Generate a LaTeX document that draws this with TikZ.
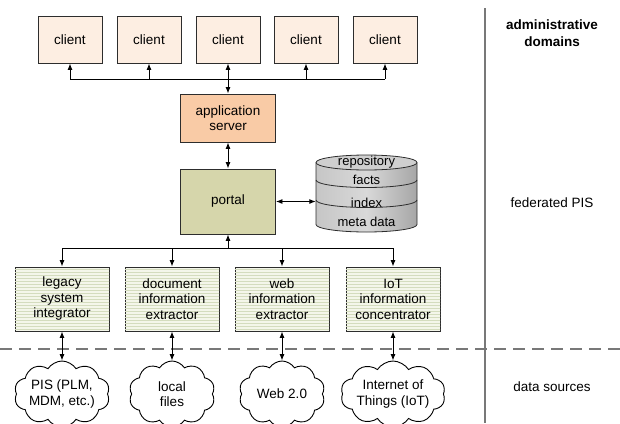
\documentclass[tikz,border=0pt]{standalone}
\usepackage{fontspec}
\setmainfont{Liberation Sans}
\usetikzlibrary{arrows.meta,shapes.symbols,patterns}
\definecolor{clientfill}{RGB}{253,238,226}
\definecolor{appfill}{RGB}{249,203,166}
\definecolor{portalfill}{RGB}{214,214,171}
\definecolor{stripefill}{RGB}{244,246,234}
\definecolor{stripeline}{RGB}{212,220,190}
\definecolor{edgecol}{RGB}{45,45,45}
\definecolor{sepcol}{RGB}{120,120,120}
\tikzset{
  box/.style={draw=edgecol, line width=0.9pt, align=center, inner sep=0pt,
    font=\fontsize{13.5}{15.5}\selectfont},
  clientbox/.style={box, fill=clientfill, minimum width=64pt, minimum height=47pt},
  appbox/.style={box, fill=appfill, minimum width=95pt, minimum height=48pt},
  portalbox/.style={box, fill=portalfill, minimum width=95pt, minimum height=65pt},
  srcbox/.style={box, fill=stripefill, minimum width=94pt, minimum height=64pt,
    postaction={pattern=horizontal lines, pattern color=stripeline}},
  cloudnode/.style={cloud, draw=black, line width=0.9pt, fill=white, cloud puffs=10,
    cloud puff arc=115, cloud ignores aspect, minimum width=86pt, minimum height=66pt,
    inner sep=0pt, align=center, font=\fontsize{13.5}{15.5}\selectfont},
  conn/.style={line width=0.9pt, draw=black},
  tip/.style={conn, -{Latex[length=6.5pt,width=5pt]}},
  twotip/.style={conn, {Latex[length=6.5pt,width=5pt]}-{Latex[length=6.5pt,width=5pt]}},
  sidelabel/.style={align=center, font=\fontsize{13.5}{15.5}\selectfont},
  repotext/.style={font=\fontsize{13}{15}\selectfont}
}
\begin{document}
\begin{tikzpicture}[x=1pt,y=1pt]
\useasboundingbox (0,0) rectangle (620,-423);

% separators
\draw[sepcol, line width=1.5pt] (485,-8) -- (485,-423);
\draw[sepcol, line width=1.5pt, dash pattern=on 12pt off 7pt] (0,-349) -- (620,-349);

% clients
\node[clientbox] (c1) at (70,-39.5) {client};
\node[clientbox] (c2) at (149,-39.5) {client};
\node[clientbox] (c3) at (228,-39.5) {client};
\node[clientbox] (c4) at (306,-39.5) {client};
\node[clientbox] (c5) at (385,-39.5) {client};

% application server and portal
\node[appbox] (app) at (228,-118) {application\\server};
\node[portalbox] (portal) at (228,-201.5) {portal};

% repository cylinder
\node[minimum width=101pt, minimum height=78pt, inner sep=0pt] (repo) at (366.5,-194) {};
\shade[left color=gray!45, right color=gray!70, middle color=gray!30]
  (316,-162.5) -- (316,-224.5)
  arc[start angle=180, end angle=360, x radius=50.5pt, y radius=7.5pt]
  -- (417,-162.5) -- cycle;
\draw[edgecol, line width=0.8pt]
  (316,-162.5) -- (316,-224.5)
  arc[start angle=180, end angle=360, x radius=50.5pt, y radius=7.5pt]
  -- (417,-162.5);
\draw[edgecol, line width=0.8pt, fill=gray!38] (366.5,-162.5) ellipse [x radius=50.5pt, y radius=7.5pt];
\draw[edgecol, line width=0.8pt] (316,-180) arc[start angle=180, end angle=360, x radius=50.5pt, y radius=7.5pt];
\draw[edgecol, line width=0.8pt] (316,-200) arc[start angle=180, end angle=360, x radius=50.5pt, y radius=7.5pt];
\node[repotext] (rt1) at (366.5,-162.5) {repository};
\node[repotext] (rt2) at (366.5,-180) {facts};
\node[repotext] (rt3) at (366.5,-203) {index};
\node[repotext] (rt4) at (366.5,-222) {meta data};

% source boxes
\node[srcbox] (b1) at (62,-299) {legacy\\system\\integrator};
\node[srcbox] (b2) at (172,-299) {document\\information\\extractor};
\node[srcbox] (b3) at (282,-299) {web\\information\\extractor};
\node[srcbox] (b4) at (393,-299) {IoT\\information\\concentrator};

% clouds
\node[cloudnode] (s1) at (62,-394) {PIS (PLM,\\MDM, etc.)};
\node[cloudnode] (s2) at (172,-394) {local\\files};
\node[cloudnode] (s3) at (282,-394) {Web 2.0};
\node[cloudnode] (s4) at (393,-394) {Internet of\\Things (IoT)};

% side labels
\node[sidelabel, font=\fontsize{13.5}{17}\selectfont\bfseries] (l1) at (552,-33.5) {administrative\\domains};
\node[sidelabel] (l2) at (552,-203) {federated PIS};
\node[sidelabel] (l3) at (552,-387) {data sources};

% top bus
\coordinate (tb) at (228,-79);
\draw[conn] (c1.south |- tb) -- (c5.south |- tb);
\draw[tip] (c1.south |- tb) -- (c1.south);
\draw[tip] (c2.south |- tb) -- (c2.south);
\draw[tip] (c4.south |- tb) -- (c4.south);
\draw[tip] (c5.south |- tb) -- (c5.south);
\draw[twotip] (c3.south) -- (app.north);
\draw[twotip] (app.south) -- (portal.north);
\draw[twotip] (portal.east) -- (portal.east -| repo.west);

% bottom bus
\coordinate (bb) at (228,-248);
\draw[conn] (b1.north |- bb) -- (b4.north |- bb);
\draw[tip] (portal.south |- bb) -- (portal.south);
\draw[tip] (b1.north |- bb) -- (b1.north);
\draw[tip] (b2.north |- bb) -- (b2.north);
\draw[tip] (b3.north |- bb) -- (b3.north);
\draw[tip] (b4.north |- bb) -- (b4.north);

% boxes to clouds
\draw[twotip] (b1.south) -- (s1.north);
\draw[twotip] (b2.south) -- (s2.north);
\draw[twotip] (b3.south) -- (s3.north);
\draw[twotip] (b4.south) -- (s4.north);
\end{tikzpicture}
\end{document}
